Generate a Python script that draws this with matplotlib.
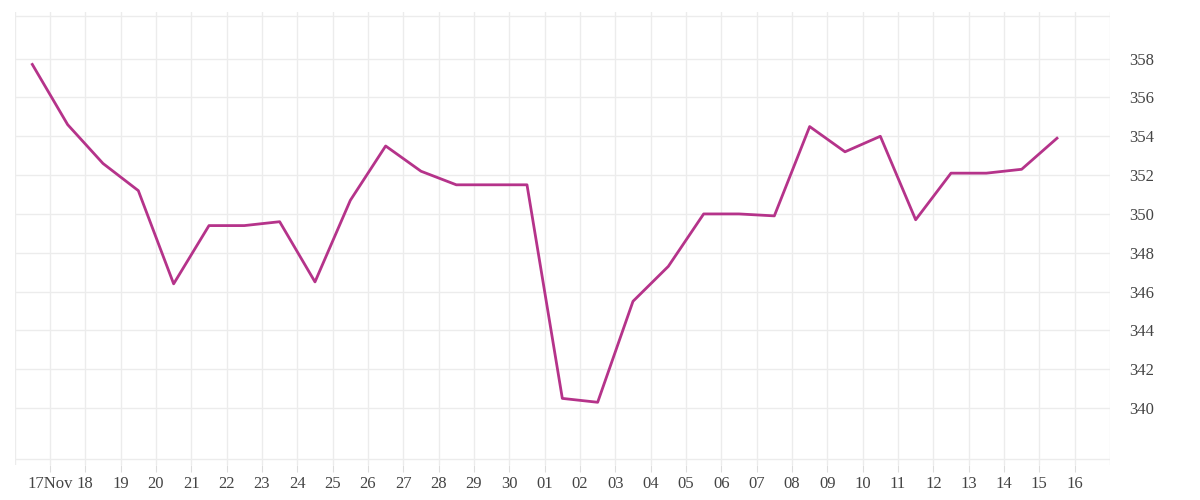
import matplotlib
matplotlib.use("Agg")
import matplotlib.pyplot as plt

labels = ["17Nov","18","19","20","21","22","23","24","25","26","27","28","29","30",
          "01","02","03","04","05","06","07","08","09","10","11","12","13","14","15","16"]
values = [357.7, 354.6, 352.6, 351.2, 346.4, 349.4, 349.4, 349.6, 346.5, 350.7,
          353.5, 352.2, 351.5, 351.5, 351.5, 340.5, 340.3, 345.5, 347.3, 350.0,
          350.0, 349.9, 354.5, 353.2, 354.0, 349.7, 352.1, 352.1, 352.3, 353.9]
yticks = [340, 342, 344, 346, 348, 350, 352, 354, 356, 358]

fig = plt.figure(figsize=(12, 5), dpi=100)
ax = fig.add_axes([0.0125, 0.07, 0.9125, 0.906])
x = [i - 0.5 for i in range(len(values))]
ax.plot(x, values, color="#b5338a", lw=2)
ax.set_xlim(-0.99, 30.0)
ax.set_ylim(337.07, 360.4)
ax.set_xticks(range(len(labels)))
ax.set_xticklabels(labels)
ax.set_yticks(yticks)
ax.yaxis.tick_right()
for s in ax.spines.values():
    s.set_visible(False)
ax.grid(True, color="#ececec", lw=1)
ax.axhline(360.2, color="#ececec", lw=1)
ax.axhline(337.4, color="#ececec", lw=1)
ax.axvline(-0.99, color="#ececec", lw=1)
ax.axvline(30.0, color="#ececec", lw=1)
ax.tick_params(axis="x", length=5, color="#dddddd", labelsize=12, labelcolor="#444444", pad=3)
ax.tick_params(axis="y", length=0, labelsize=12, labelcolor="#444444", pad=14)
for t in ax.get_xticklabels() + ax.get_yticklabels():
    t.set_family("Liberation Serif")
fig.savefig("out.png")
